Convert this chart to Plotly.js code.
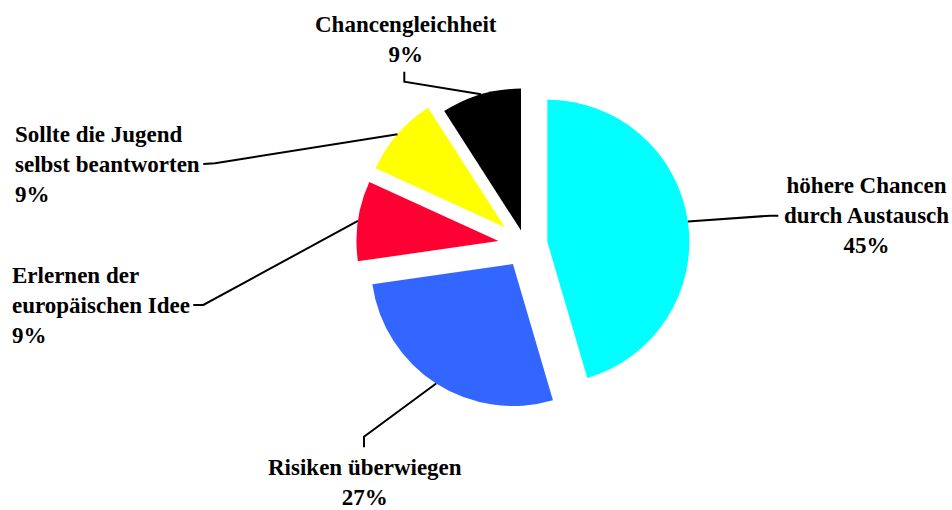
<!DOCTYPE html>
<html><head><meta charset="utf-8">
<script src="https://cdn.plot.ly/plotly-3.0.1.min.js"></script>
<style>html,body{margin:0;padding:0;background:#fff}#chart{width:952px;height:510px}</style>
</head><body><div id="chart"></div>
<script>
// ---- data ----
const categories = ['höhere Chancen durch Austausch','Risiken überwiegen','Erlernen der europäischen Idee','Sollte die Jugend selbst beantworten','Chancengleichheit'];
const labelLines = [['höhere Chancen','durch Austausch'],['Risiken überwiegen'],['Erlernen der','europäischen Idee'],['Sollte die Jugend','selbst beantworten'],['Chancengleichheit']];
const values = [5,3,1,1,1];
const colors = ['#00FFFF','#3366FF','#FF0033','#FFFF00','#000000'];
const pulls = [0.157,0.16,0.19,0.19,0.105];

// ---- layout constants ----
const W = 952, H = 510;
const domX = [0.3416, 0.7618], domY = [0.1884, 0.8512];
const labelPos = [
  {x:866,   y:215.5, xa:'center', align:'center', elbow:[770,215.7],  end:[778.3,215.7]},
  {x:365,   y:482.5, xa:'center', align:'center', elbow:[364,436.7],  end:[364,447.3]},
  {x:10,    y:305,   xa:'left',   align:'left',   elbow:[203.3,305],  end:[193.3,305]},
  {x:13,    y:165,   xa:'left',   align:'left',   elbow:[215,163.3],  end:[203.3,164]},
  {x:405.5, y:39.5,  xa:'center', align:'center', elbow:[404.3,81.7], end:[404.3,71.7]}
];
const FONT = '"Liberation Serif", "Times New Roman", Times, serif';

const total = values.reduce((a,b)=>a+b,0);
const maxPull = Math.max(...pulls);
const boxW = W*(domX[1]-domX[0]), boxH = H*(domY[1]-domY[0]);
const r = Math.min(boxW/2, boxH/2)/(1+maxPull);
const cx = W*(domX[0]+domX[1])/2;
const cy = H*(1-domY[0]) - boxH/2;
const px = x => x/W, py = y => 1 - y/H;

const shapes = [], annotations = [];
let cum = 0;
values.forEach((v,i)=>{
  const mid = (cum + v/2)/total*2*Math.PI; cum += v;
  const rr = (1+pulls[i])*r;
  const ax = cx + rr*Math.sin(mid), ay = cy - rr*Math.cos(mid);
  const L = labelPos[i];
  shapes.push({type:'path', xref:'paper', yref:'paper',
    path:`M ${px(ax)},${py(ay)} L ${px(L.elbow[0])},${py(L.elbow[1])} L ${px(L.end[0])},${py(L.end[1])}`,
    line:{color:'#000', width:2}});
  const pct = Math.round(v/total*100) + '%';
  annotations.push({xref:'paper', yref:'paper', x:px(L.x), y:py(L.y), xanchor:L.xa, yanchor:'middle',
    align:L.align, showarrow:false,
    text: labelLines[i].concat([pct]).map(s=>'<b>'+s+'</b>').join('<br>'),
    font:{family:FONT, size:23, color:'#000'}});
});

Plotly.newPlot('chart', [{
  type:'pie', labels:categories, values:values, sort:false, direction:'clockwise', rotation:0,
  pull:pulls, marker:{colors:colors, line:{width:0}}, textinfo:'none', hoverinfo:'none',
  domain:{x:domX, y:domY}, showlegend:false
}], {
  width:W, height:H, margin:{l:0,r:0,t:0,b:0}, paper_bgcolor:'#fff', plot_bgcolor:'#fff',
  font:{family:FONT}, showlegend:false, shapes:shapes, annotations:annotations
}, {displayModeBar:false, staticPlot:true});
</script></body></html>
